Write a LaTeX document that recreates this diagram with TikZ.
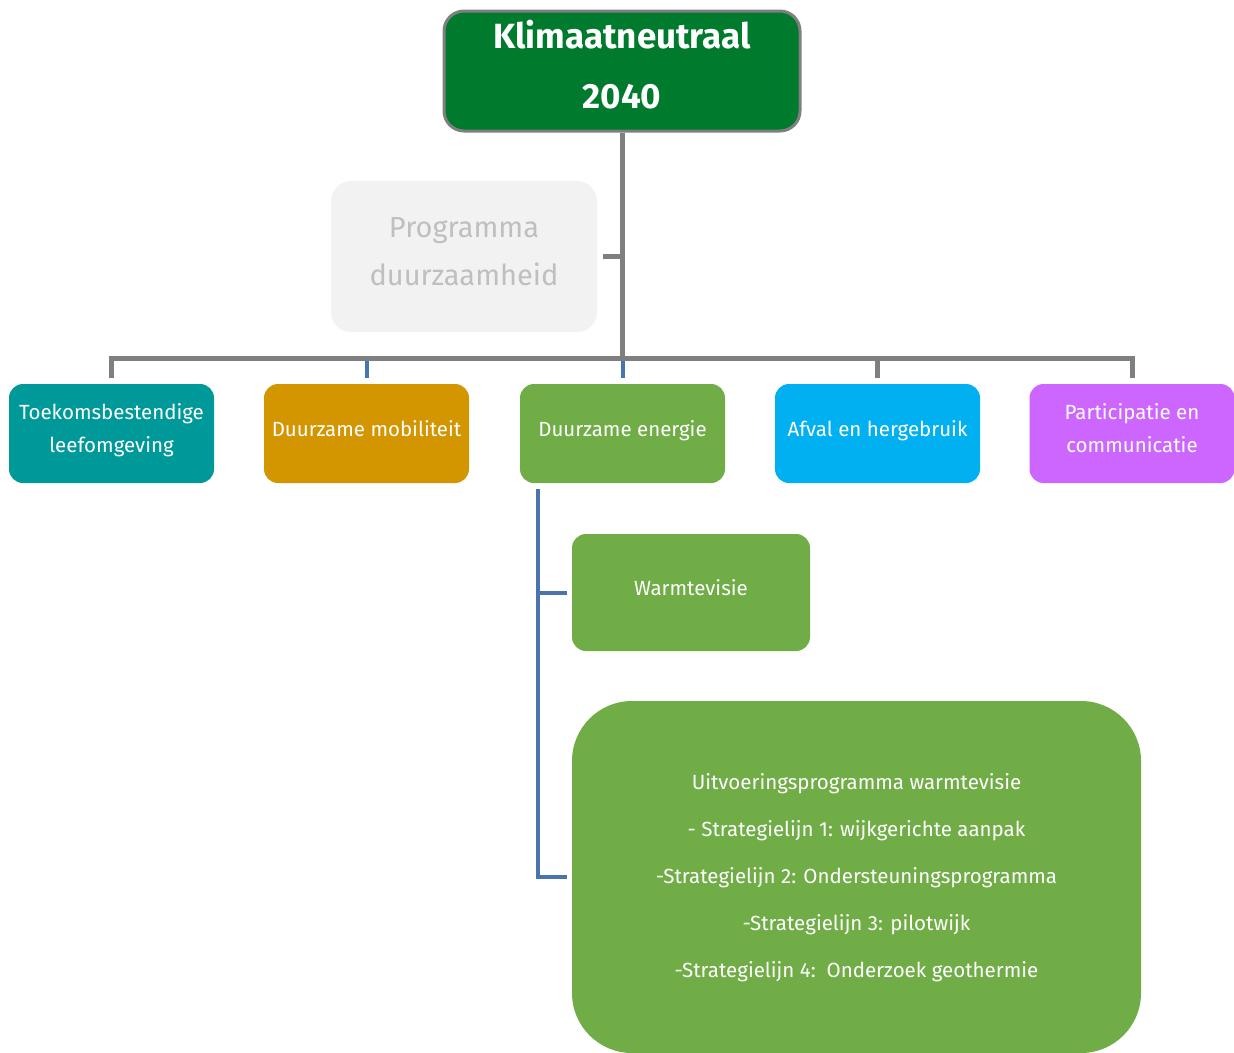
\documentclass[tikz,border=0pt]{standalone}
\usepackage{fontspec}
\setmainfont{Fira Sans}
\definecolor{topgreen}{HTML}{007B2E}
\definecolor{linegray}{HTML}{7F7F7F}
\definecolor{lineblue}{HTML}{4A74AE}
\definecolor{progfill}{HTML}{F2F2F2}
\definecolor{progtext}{HTML}{BFBFBF}
\definecolor{tealbox}{HTML}{009999}
\definecolor{orangebox}{HTML}{D39600}
\definecolor{greenbox}{HTML}{70AD47}
\definecolor{cyanbox}{HTML}{00B0F0}
\definecolor{purplebox}{HTML}{CC66FF}
\begin{document}
\begin{tikzpicture}[x=1pt,y=-1pt,
    themebox/.style={rounded corners=14pt, text=white, align=center, inner sep=0pt, text depth=11pt,
        font=\fontsize{20.5}{33}\selectfont, minimum width=205pt, minimum height=99pt},
    graylink/.style={draw=linegray, line width=5pt},
    bluelink/.style={draw=lineblue, line width=4pt}]
    \useasboundingbox (0,0) rectangle (1234,1052);
    % top and programme
    \node[draw=linegray, line width=3pt, fill=topgreen, rounded corners=20pt, text=white,
        minimum width=356pt, minimum height=120pt, inner sep=0pt, align=center, text depth=14pt,
        font=\fontsize{35}{60}\selectfont\bfseries] (klimaat) at (622,71) {Klimaatneutraal\\2040};
    \node[fill=progfill, text=progtext, rounded corners=20pt, minimum width=266pt, minimum height=151pt,
        inner sep=0pt, align=center, text depth=10pt, font=\fontsize{29}{48}\selectfont] (programma) at (464,256.5)
        {Programma\\duurzaamheid};
    % themes
    \node[themebox, fill=tealbox] (toekomst) at (111.5,433.5) {Toekomsbestendige\\leefomgeving};
    \node[themebox, fill=orangebox] (mobiliteit) at (366.5,433.5) {Duurzame mobiliteit};
    \node[themebox, fill=greenbox] (energie) at (622.5,433.5) {Duurzame energie};
    \node[themebox, fill=cyanbox] (afval) at (877.5,433.5) {Afval en hergebruik};
    \node[themebox, fill=purplebox] (participatie) at (1132,433.5) {Participatie en\\communicatie};
    % energy children
    \node[themebox, fill=greenbox, minimum width=238pt, minimum height=117pt] (warmtevisie) at (691,592.5) {Warmtevisie};
    \node[themebox, fill=greenbox, rounded corners=60pt, minimum width=569pt, minimum height=352pt,
        text depth=3pt, font=\fontsize{20.5}{47}\selectfont] (uitvoering) at (856.5,877)
        {Uitvoeringsprogramma warmtevisie\\- Strategielijn 1: wijkgerichte aanpak\\
        -Strategielijn 2: Ondersteuningsprogramma\\-Strategielijn 3: pilotwijk\\
        -Strategielijn 4:\ \ Onderzoek geothermie};
    % connectors
    \coordinate (bar) at (622,358);
    \draw[graylink] (klimaat.south) -- (bar);
    \draw[graylink, shorten <=6pt] (programma.east) -- (programma.east -| bar);
    \draw[graylink, shorten <=6pt, shorten >=6pt] (toekomst.north) |- (bar) -| (participatie.north);
    \draw[graylink, shorten <=2.5pt, shorten >=6pt] (bar -| afval.north) -- (afval.north);
    \draw[bluelink, shorten <=2.5pt, shorten >=6pt] (bar -| mobiliteit.north) -- (mobiliteit.north);
    \draw[bluelink, shorten <=2.5pt, shorten >=6pt] (bar -| energie.north) -- (energie.north);
    \coordinate (spine) at ([xshift=18pt,yshift=-6pt]energie.south west);
    \draw[bluelink] (spine) |- ([xshift=-5pt]uitvoering.west);
    \draw[bluelink] (spine |- warmtevisie.west) -- ([xshift=-5pt]warmtevisie.west);
\end{tikzpicture}
\end{document}
